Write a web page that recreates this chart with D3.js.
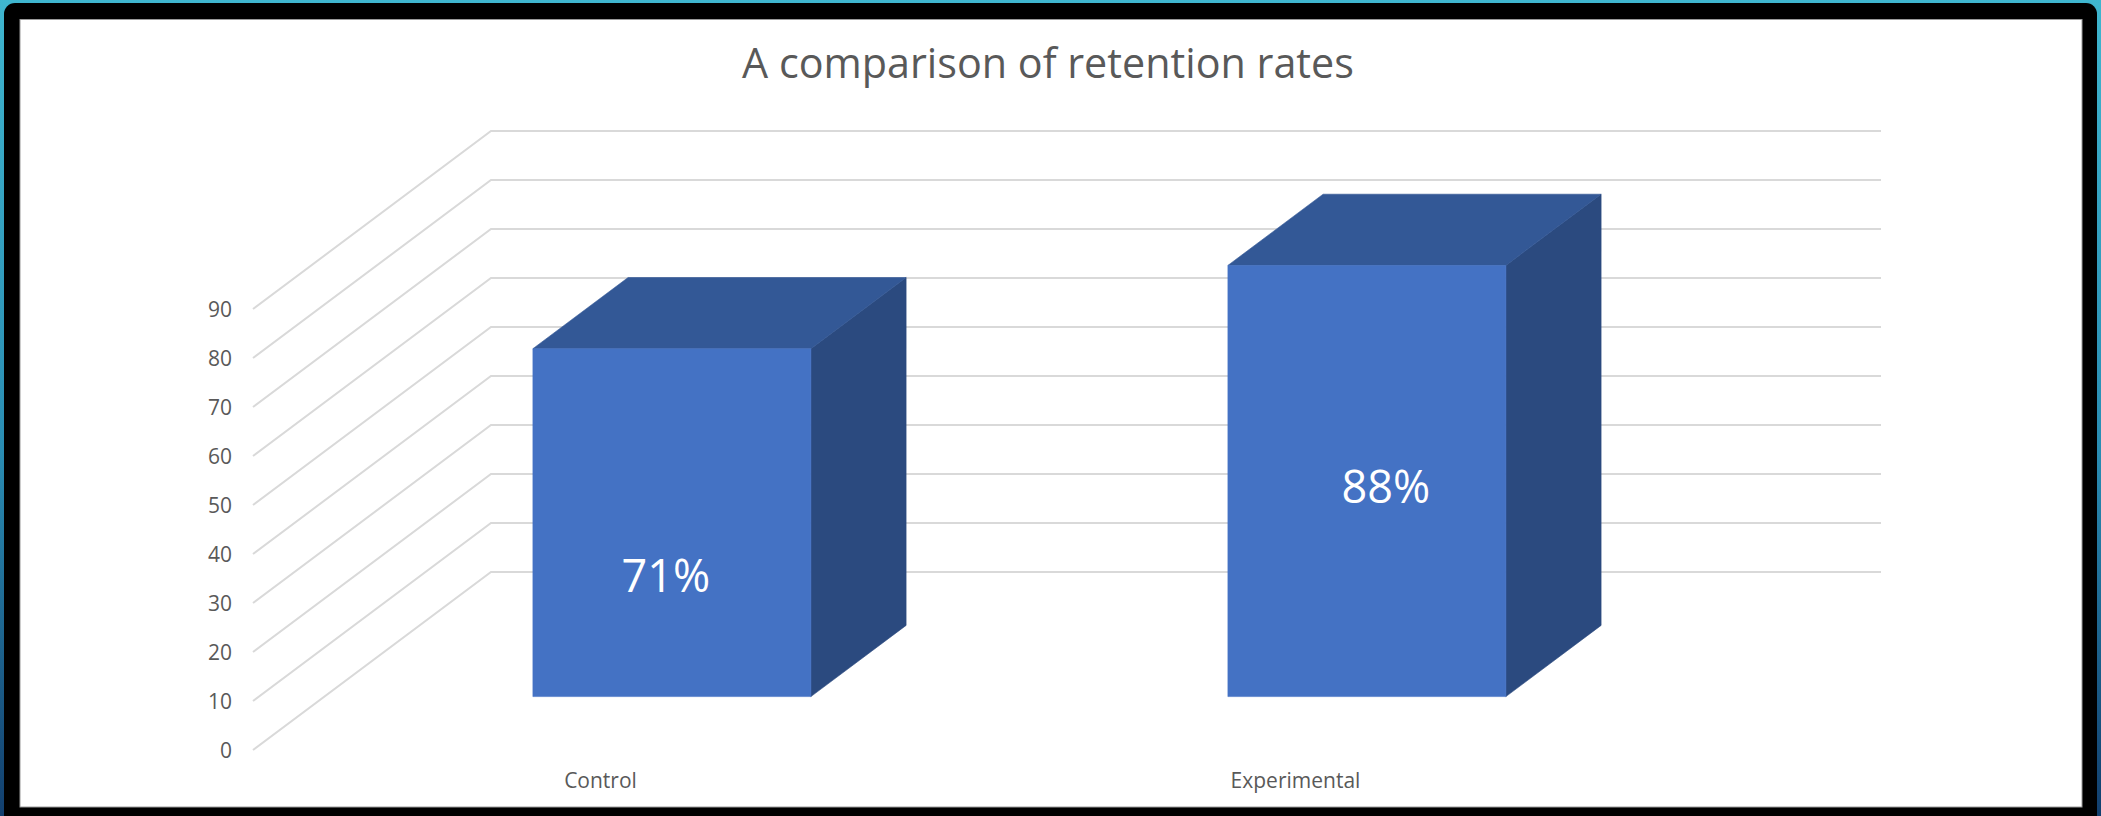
<!DOCTYPE html>
<html>
<head>
<meta charset="utf-8">
<script src="https://cdn.jsdelivr.net/npm/d3@7"></script>
<style>
  html, body { margin: 0; padding: 0; background: #000; }
  svg { display: block; }
</style>
</head>
<body>
<svg id="chart" width="2101" height="816"></svg>
<script>
// ---- data ----
const title = "A comparison of retention rates";
const categories = ["Control", "Experimental"];
const values = [71, 88];
const valueLabels = ["71%", "88%"];
const yTicks = [0, 10, 20, 30, 40, 50, 60, 70, 80, 90];

// ---- layout ----
const W = 2101, H = 816;
const svg = d3.select("#chart");
const defs = svg.append("defs");
const grad = defs.append("linearGradient").attr("id", "bg").attr("x1", 0).attr("y1", 0).attr("x2", 0).attr("y2", 1);
grad.append("stop").attr("offset", "0%").attr("stop-color", "#3fb6cf");
grad.append("stop").attr("offset", "55%").attr("stop-color", "#2a8db3");
grad.append("stop").attr("offset", "100%").attr("stop-color", "#123f6e");

svg.append("rect").attr("width", W).attr("height", H).attr("fill", "url(#bg)");
svg.append("rect").attr("x", 4).attr("y", 3).attr("width", 2093).attr("height", 830).attr("rx", 11).attr("fill", "#000");
svg.append("rect").attr("x", 20).attr("y", 19.5).attr("width", 2062).attr("height", 787.5)
  .attr("fill", "#fff").attr("stroke", "#9a9a9a").attr("stroke-width", 1);

const font = "'Open Sans', 'Noto Sans', sans-serif";
const textColor = "#595959";

// front plane (depth 0) scales
const y = d3.scaleLinear().domain([0, 90]).range([750, 309]);
const x = d3.scaleBand().domain(categories).range([253, 1643]).paddingInner(0).paddingOuter(0);
// oblique depth vector for the full depth of the plot box
const depth = { dx: 238, dy: -178 };
const barWidthFrac = 0.4;
const barDepth0 = 0.3, barDepth1 = 0.7;
const proj = (px, py, t) => [px + depth.dx * t, py + depth.dy * t];
const xRight = x.range()[1];

// ---- gridlines ----
const grid = svg.append("g").attr("stroke", "#d9d9d9").attr("stroke-width", 2).attr("fill", "none");
yTicks.forEach(v => {
  const f = [x.range()[0], y(v)];
  const b = proj(f[0], f[1], 1);
  const e = proj(xRight, y(v), 1);
  grid.append("path").attr("d", d3.line()([f, b, e]));
});

// ---- y tick labels ----
const yAxis = d3.axisLeft(y).tickValues(yTicks).tickSize(0).tickPadding(0).tickFormat(d3.format("d"));
const yg = svg.append("g").attr("transform", "translate(232,0)").call(yAxis);
yg.select(".domain").remove();
yg.selectAll("text").attr("font-family", font).attr("font-size", 21).attr("fill", textColor).attr("dy", "0.34em");

// ---- bars ----
const colFront = "#4472c4", colTop = "#335896", colSide = "#2b4a7f";
const bars = svg.append("g");
categories.forEach((c, i) => {
  const v = values[i];
  const bw = x.bandwidth() * barWidthFrac;
  const cx = x(c) + x.bandwidth() / 2;
  const x0 = cx - bw / 2, x1 = cx + bw / 2;
  const yb = y(0), yt = y(v);
  const p = (px, py, t) => proj(px, py, t);
  const fr = [p(x0, yt, barDepth0), p(x1, yt, barDepth0), p(x1, yb, barDepth0), p(x0, yb, barDepth0)];
  const side = [p(x1, yt, barDepth0), p(x1, yt, barDepth1), p(x1, yb, barDepth1), p(x1, yb, barDepth0)];
  const top = [p(x0, yt, barDepth0), p(x0, yt, barDepth1), p(x1, yt, barDepth1), p(x1, yt, barDepth0)];
  const poly = pts => "M" + pts.map(q => q.join(",")).join("L") + "Z";
  bars.append("path").attr("d", poly(side)).attr("fill", colSide).attr("stroke", colSide).attr("stroke-width", 0.6);
  bars.append("path").attr("d", poly(top)).attr("fill", colTop).attr("stroke", colTop).attr("stroke-width", 0.6);
  bars.append("path").attr("d", poly(fr)).attr("fill", colFront).attr("stroke", colFront).attr("stroke-width", 0.6);
});

// ---- data labels ----
const labelNudge = [[-6, 53], [19, 6]];
categories.forEach((c, i) => {
  const cx = x(c) + x.bandwidth() / 2;
  const fc = proj(cx, (y(0) + y(values[i])) / 2, barDepth0);
  svg.append("text")
    .attr("x", fc[0] + labelNudge[i][0]).attr("y", fc[1] + labelNudge[i][1])
    .attr("dy", "0.36em").attr("text-anchor", "middle")
    .attr("font-family", font).attr("font-size", 45).attr("fill", "#fff")
    .text(valueLabels[i]);
});

// ---- category labels ----
categories.forEach(c => {
  svg.append("text")
    .attr("x", x(c) + x.bandwidth() / 2).attr("y", 780).attr("dy", "0.36em")
    .attr("text-anchor", "middle").attr("font-family", font).attr("font-size", 21)
    .attr("fill", textColor).text(c);
});

// ---- title ----
const t = svg.append("text").attr("x", 1048).attr("y", 78).attr("text-anchor", "middle")
  .attr("font-family", font).attr("font-size", 40).attr("fill", textColor).text(title);
const tw = t.node().getComputedTextLength();
t.attr("font-size", 40 * 612 / tw);
</script>
</body>
</html>
